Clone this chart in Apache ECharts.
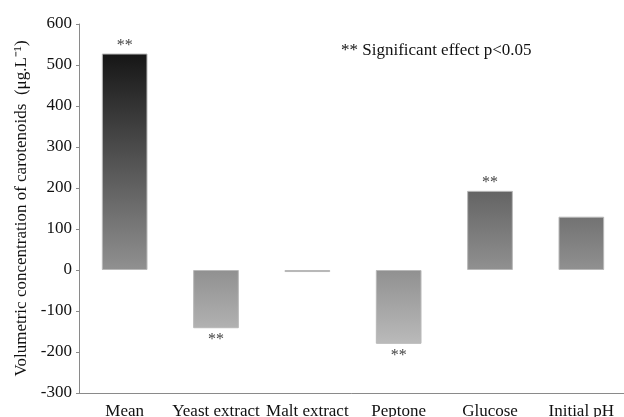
<!DOCTYPE html>
<html><head><meta charset="utf-8">
<script src="https://cdn.jsdelivr.net/npm/echarts@6/dist/echarts.min.js"></script>
<style>html,body{margin:0;padding:0;background:#fff}#c{width:624px;height:417px}</style>
</head><body><div id="c"></div>
<script>
var categories = ['Mean', 'Yeast extract', 'Malt extract', 'Peptone', 'Glucose', 'Initial pH'];
var effects = [528, -142, -5, -180, 193, 130];
var significant = [true, true, false, true, true, false];
var yTicks = {min: -300, max: 600, interval: 100};

var font = "'Liberation Serif','Times New Roman',serif";
var chart = echarts.init(document.getElementById('c'));
var grad = new echarts.graphic.LinearGradient(0, 24, 0, 393, [
  {offset: 0, color: '#050505'},
  {offset: 1, color: '#d6d6d6'}
], true);
chart.setOption({
  animation: false,
  grid: {left: 79, top: 24, bottom: 24, width: 548, containLabel: false, outerBoundsMode: 'none'},
  xAxis: {
    type: 'category', data: categories,
    axisLine: {onZero: false, lineStyle: {color: '#8a8a8a', width: 1}},
    axisTick: {alignWithLabel: true, length: 3, lineStyle: {color: '#8a8a8a'}},
    axisLabel: {color: '#111', fontFamily: font, fontSize: 17, margin: 10, interval: 0}
  },
  yAxis: {
    type: 'value', min: yTicks.min, max: yTicks.max, interval: yTicks.interval,
    name: 'Volumetric concentration of carotenoids  (\u03bcg.L\u207b\u00b9)',
    nameLocation: 'middle', nameGap: 47, nameRotate: 90,
    nameTextStyle: {color: '#111', fontFamily: font, fontSize: 17},
    axisLine: {show: true, lineStyle: {color: '#8a8a8a', width: 1}},
    axisTick: {show: true, length: 3, lineStyle: {color: '#8a8a8a'}},
    splitLine: {show: false},
    axisLabel: {color: '#111', fontFamily: font, fontSize: 17, margin: 7}
  },
  series: [{
    type: 'bar', barWidth: '50%',
    data: effects.map(function (v, i) {
      return {
        value: v,
        label: {
          show: significant[i], position: v >= 0 ? 'top' : 'bottom',
          formatter: '**', color: '#444', fontFamily: font, fontSize: 16,
          distance: v >= 0 ? 0 : 4
        }
      };
    }),
    itemStyle: {color: grad, borderColor: '#b8b8b8', borderWidth: 1}
  }],
  graphic: [{
    type: 'text', left: 341, top: 42,
    style: {text: '** Significant effect p<0.05', fill: '#111', font: '17px ' + font}
  }]
});
</script></body></html>
